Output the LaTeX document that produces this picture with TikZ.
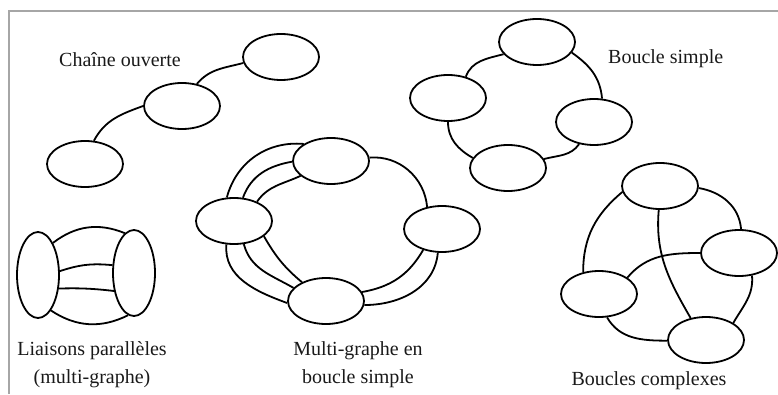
\documentclass[tikz,border=0pt]{standalone}
\usepackage{fontspec}
\setmainfont{Liberation Serif}
\usetikzlibrary{shapes.geometric}
\tikzset{
	piece/.style={draw, ellipse, minimum width=76pt, minimum height=46pt, inner sep=0pt, line width=1.8pt},
	piecev/.style={piece, minimum width=42pt, minimum height=86pt},
	liaison/.style={line width=1.8pt},
	legende/.style={anchor=base, inner sep=0pt, font=\fontsize{20}{24}\selectfont, text=black!90}
}
\begin{document}
\begin{tikzpicture}[x=1pt,y=1pt]
	\useasboundingbox (0,0) rectangle (778,394);
	\draw[line width=2pt, black!35] (9,0) -- (9,383) -- (778,383);

	% chaine ouverte
	\node[piece] (e1) at (281,337) {};
	\node[piece] (e2) at (182,288) {};
	\node[piece] (e3) at (85,230) {};
	\draw[liaison] (e3.69) to[out=62,in=200] (e2.180);
	\draw[liaison] (e2.56) to[out=50,in=195] (e1.189);
	\node[legende, anchor=base west] (t1) at (59,327) {Chaîne ouverte};

	% boucle simple
	\node[piece] (b1) at (537,352) {};
	\node[piece] (b2) at (448,296) {};
	\node[piece] (b3) at (594,272) {};
	\node[piece] (b4) at (508,226) {};
	\draw[liaison] (b1.200) to[out=195,in=70] (b2.50);
	\draw[liaison] (b1.343) to[out=-35,in=95] (b3.71);
	\draw[liaison] (b2.270) to[out=270,in=150] (b4.164);
	\draw[liaison] (b4.14) to[out=15,in=235] (b3.236);
	\node[legende, anchor=base west] (t2) at (608,330) {Boucle simple};

	% liaisons paralleles
	\node[piecev] (p1) at (38,119) {};
	\node[piecev] (p2) at (134,121) {};
	\draw[liaison] (p1.65) to[bend left=30] (p2.103);
	\draw[liaison] (p1.10) to[bend left=12] (p2.160);
	\draw[liaison] (p1.-33) to[bend left=4] (p2.222);
	\draw[liaison] (p1.-70) to[bend right=30] (p2.262);
	\node[legende] (t3) at (92,39) {Liaisons parallèles};
	\node[legende] (t4) at (92,11) {(multi-graphe)};

	% multi-graphe en boucle simple
	\node[piece] (m1) at (331,233) {};
	\node[piece] (m2) at (234,173) {};
	\node[piece] (m3) at (442,165) {};
	\node[piece] (m4) at (326,93) {};
	\draw[liaison] (m1.148) to[out=175,in=75] (m2.107);
	\draw[liaison] (m1.181) to[out=190,in=70] (m2.69);
	\draw[liaison] (m1.206) to[out=205,in=55] (m2.40);
	\draw[liaison] (m2.252) to[out=265,in=160] (m4.183);
	\draw[liaison] (m2.293) to[out=285,in=150] (m4.158);
	\draw[liaison] (m2.333) to[out=300,in=140] (m4.142);
	\draw[liaison] (m4.14) to[out=10,in=240] (m3.228);
	\draw[liaison] (m4.354) to[out=0,in=265] (m3.260);
	\draw[liaison] (m1.5) to[out=5,in=95] (m3.124);
	\node[legende] (t5) at (358,39) {Multi-graphe en};
	\node[legende] (t6) at (358,11) {boucle simple};

	% boucles complexes
	\node[piece] (c1) at (660,208) {};
	\node[piece] (c2) at (739,141) {};
	\node[piece] (c3) at (599,100) {};
	\node[piece] (c4) at (706,54) {};
	\draw[liaison] (c1.189) to[out=220,in=90] (c3.126);
	\draw[liaison] (c1.357) to[out=-10,in=95] (c2.85);
	\draw[liaison] (c1.267) to[out=265,in=120] (c4.125);
	\draw[liaison] (c2.180) to[out=180,in=50] (c3.30);
	\draw[liaison] (c2.300) to[out=-85,in=60] (c4.32);
	\draw[liaison] (c3.289) to[out=-60,in=180] (c4.181);
	\node[legende] (t7) at (649,9) {Boucles complexes};
\end{tikzpicture}
\end{document}
